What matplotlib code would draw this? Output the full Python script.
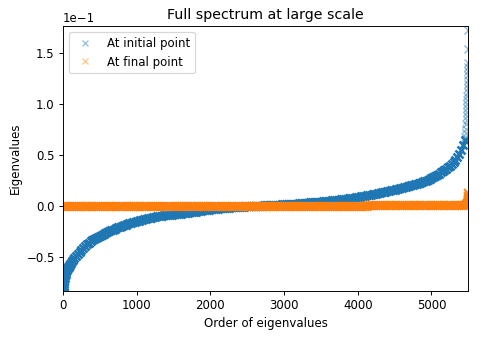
import numpy as np
import matplotlib
matplotlib.use('Agg')
import matplotlib.pyplot as plt
from matplotlib.lines import Line2D

# spectrum size
n_eig = 5500

# eigenvalues read every 25 indices (0 .. 5450)
grid_idx = np.arange(0, 5451, 25)

# blue: at initial point
init_vals = [
    -0.0840, -0.0690, -0.0630, -0.0595, -0.0565, -0.0538, -0.0512, -0.0490, -0.0470, -0.0450,
    -0.0432, -0.0413, -0.0395, -0.0376, -0.0358, -0.0345, -0.0333, -0.0321, -0.0310, -0.0300,
    -0.0290, -0.0280, -0.0270, -0.0261, -0.0252, -0.0245, -0.0238, -0.0231, -0.0224, -0.0217,
    -0.0210, -0.0203, -0.0196, -0.0189, -0.0183, -0.0177, -0.0171, -0.0165, -0.0159, -0.0153,
    -0.0147, -0.0142, -0.0138, -0.0133, -0.0129, -0.0125, -0.0121, -0.0117, -0.0113, -0.0109,
    -0.0105, -0.0102, -0.0100, -0.0097, -0.0095, -0.0092, -0.0090, -0.0088, -0.0086, -0.0084,
    -0.0082, -0.0080, -0.0078, -0.0076, -0.0074, -0.0072, -0.0070, -0.0068, -0.0066, -0.0063,
    -0.0061, -0.0058, -0.0055, -0.0052, -0.0049, -0.0046, -0.0043, -0.0040, -0.0038, -0.0035,
    -0.0033, -0.0031, -0.0029, -0.0027, -0.0025, -0.0023, -0.0021, -0.0019, -0.0018, -0.0016,
    -0.0015, -0.0013, -0.0012, -0.0010, -0.0009, -0.0008, -0.0007, -0.0006, -0.0005, -0.0004,
    -0.0003, -0.0002, -0.0001, 0.0000, 0.0001, 0.0002, 0.0003, 0.0004, 0.0005, 0.0006,
    0.0007, 0.0008, 0.0009, 0.0010, 0.0011, 0.0012, 0.0013, 0.0014, 0.0015, 0.0016,
    0.0017, 0.0018, 0.0019, 0.0020, 0.0021, 0.0022, 0.0023, 0.0024, 0.0026, 0.0027,
    0.0029, 0.0030, 0.0032, 0.0033, 0.0035, 0.0036, 0.0038, 0.0039, 0.0041, 0.0042,
    0.0044, 0.0045, 0.0047, 0.0049, 0.0051, 0.0053, 0.0055, 0.0057, 0.0059, 0.0061,
    0.0063, 0.0065, 0.0067, 0.0069, 0.0072, 0.0074, 0.0077, 0.0079, 0.0082, 0.0085,
    0.0088, 0.0091, 0.0094, 0.0097, 0.0101, 0.0104, 0.0108, 0.0111, 0.0115, 0.0118,
    0.0122, 0.0126, 0.0130, 0.0134, 0.0138, 0.0142, 0.0146, 0.0150, 0.0154, 0.0158,
    0.0162, 0.0166, 0.0170, 0.0174, 0.0178, 0.0182, 0.0187, 0.0192, 0.0197, 0.0202,
    0.0207, 0.0212, 0.0218, 0.0224, 0.0230, 0.0236, 0.0243, 0.0250, 0.0258, 0.0267,
    0.0276, 0.0286, 0.0296, 0.0307, 0.0318, 0.0329, 0.0340, 0.0352, 0.0365, 0.0380,
    0.0395, 0.0412, 0.0430, 0.0453, 0.0480, 0.0512, 0.0550, 0.0595, 0.0650,
]
# extra readings where the curve is steep
init_head_idx = [2, 5, 8, 10, 12, 15, 18, 21, 30, 35, 40, 45, 55, 60, 65, 70, 85, 90, 110, 135]
init_head_vals = [-0.0830, -0.0810, -0.0790, -0.0780, -0.0765, -0.0745, -0.0725, -0.0705,
                  -0.0675, -0.0662, -0.0650, -0.0640, -0.0622, -0.0614, -0.0607, -0.0601,
                  -0.0583, -0.0577, -0.0554, -0.0528]
init_tail_idx = [5458, 5465, 5470, 5474, 5477, 5480, 5482, 5484, 5486, 5487, 5488,
                 5489, 5490, 5491, 5492, 5493, 5494, 5495, 5496, 5498, 5499]
init_tail_vals = [0.068, 0.072, 0.076, 0.080, 0.084, 0.088, 0.092, 0.096, 0.100, 0.104, 0.108,
                  0.112, 0.116, 0.120, 0.124, 0.128, 0.132, 0.136, 0.140, 0.154, 0.173]

# orange: at final point
final_vals = [
    -0.0004, -0.0004, -0.0004, -0.0004, -0.0004, -0.0004, -0.0004, -0.0004, -0.0004, -0.0004,
    -0.0004, -0.0004, -0.0004, -0.0004, -0.0004, -0.0004, -0.0004, -0.0004, -0.0004, -0.0004,
    -0.0004, -0.0004, -0.0004, -0.0004, -0.0004, -0.0004, -0.0004, -0.0004, -0.0004, -0.0004,
    -0.0003, -0.0003, -0.0003, -0.0003, -0.0003, -0.0003, -0.0003, -0.0003, -0.0003, -0.0003,
    -0.0003, -0.0003, -0.0003, -0.0003, -0.0003, -0.0003, -0.0003, -0.0003, -0.0003, -0.0003,
    -0.0003, -0.0003, -0.0003, -0.0003, -0.0002, -0.0002, -0.0002, -0.0002, -0.0002, -0.0002,
    -0.0002, -0.0002, -0.0002, -0.0002, -0.0002, -0.0002, -0.0002, -0.0002, -0.0002, -0.0002,
    -0.0002, -0.0002, -0.0002, -0.0002, -0.0001, -0.0001, -0.0001, -0.0001, -0.0001, -0.0001,
    -0.0001, -0.0001, -0.0001, -0.0001, -0.0001, -0.0001, -0.0001, -0.0001, -0.0001, 0.0000,
    0.0000, 0.0000, 0.0000, 0.0000, 0.0000, 0.0000, 0.0000, 0.0000, 0.0000, 0.0000,
    0.0000, 0.0000, 0.0000, 0.0000, 0.0000, 0.0000, 0.0000, 0.0000, 0.0000, 0.0001,
    0.0001, 0.0001, 0.0001, 0.0001, 0.0001, 0.0001, 0.0001, 0.0001, 0.0001, 0.0001,
    0.0001, 0.0001, 0.0001, 0.0001, 0.0002, 0.0002, 0.0002, 0.0002, 0.0002, 0.0002,
    0.0002, 0.0002, 0.0002, 0.0002, 0.0002, 0.0002, 0.0003, 0.0003, 0.0003, 0.0003,
    0.0003, 0.0003, 0.0003, 0.0003, 0.0003, 0.0003, 0.0004, 0.0004, 0.0004, 0.0004,
    0.0004, 0.0004, 0.0004, 0.0004, 0.0004, 0.0004, 0.0005, 0.0005, 0.0005, 0.0005,
    0.0005, 0.0005, 0.0005, 0.0005, 0.0005, 0.0005, 0.0006, 0.0006, 0.0006, 0.0006,
    0.0006, 0.0006, 0.0006, 0.0006, 0.0006, 0.0006, 0.0007, 0.0007, 0.0007, 0.0007,
    0.0007, 0.0007, 0.0007, 0.0007, 0.0008, 0.0008, 0.0008, 0.0008, 0.0008, 0.0008,
    0.0008, 0.0008, 0.0008, 0.0008, 0.0009, 0.0009, 0.0009, 0.0009, 0.0009, 0.0009,
    0.0009, 0.0009, 0.0009, 0.0009, 0.0010, 0.0010, 0.0010, 0.0010, 0.0010, 0.0010,
    0.0010, 0.0010, 0.0010, 0.0010, 0.0011, 0.0011, 0.0011, 0.0011, 0.0011,
]
final_tail_idx = [5460, 5470, 5478, 5484, 5488, 5491, 5493, 5495, 5496, 5497, 5498, 5499]
final_tail_vals = [0.0012, 0.0014, 0.0016, 0.0020, 0.0025, 0.0032, 0.0040, 0.0050,
                   0.0062, 0.0078, 0.0098, 0.0125]

x_init = np.concatenate([init_head_idx, grid_idx])
y_init = np.concatenate([init_head_vals, init_vals])

fig = plt.figure(figsize=(483 / 85, 337 / 85), dpi=85)
ax = fig.add_axes([0.1304, 0.1365, 0.8392, 0.7863])

# dense part of each spectrum merges into a solid band
ax.plot(x_init, y_init, 'x', color='C0', ms=7, mew=2.2)
ax.plot(init_tail_idx, init_tail_vals, 'x', color='C0', alpha=0.5, ms=7, mew=1.2)
ax.plot(grid_idx, final_vals, 'x', color='C1', ms=7, mew=2.2)
ax.plot(final_tail_idx, final_tail_vals, 'x', color='C1', ms=7, mew=1.6)

ax.set_xlim(0, n_eig)
ax.set_ylim(-0.0833, 0.1765)
ax.ticklabel_format(style='sci', axis='y', scilimits=(0, 0))

ax.set_title('Full spectrum at large scale')
ax.set_xlabel('Order of eigenvalues')
ax.set_ylabel('Eigenvalues')

handles = [
    Line2D([], [], ls='none', marker='x', color='C0', alpha=0.5, ms=5),
    Line2D([], [], ls='none', marker='x', color='C1', alpha=0.5, ms=5),
]
ax.legend(handles, ['At initial point', 'At final point'], loc='upper left')

fig.savefig('out.png', dpi=85)
